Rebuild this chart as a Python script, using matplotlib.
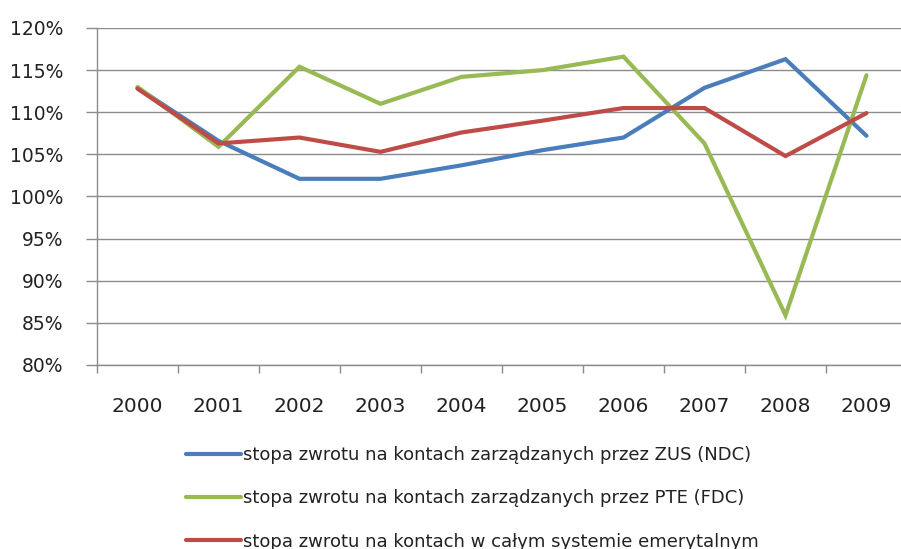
import matplotlib
matplotlib.use("Agg")
import matplotlib.pyplot as plt
from matplotlib.ticker import FixedLocator, NullFormatter, FuncFormatter

years = ["2000", "2001", "2002", "2003", "2004", "2005", "2006", "2007", "2008", "2009"]
zus_ndc = [112.9, 106.6, 102.1, 102.1, 103.7, 105.5, 107.0, 112.9, 116.3, 107.2]
pte_fdc = [113.0, 105.9, 115.4, 111.0, 114.2, 115.0, 116.6, 106.3, 85.9, 114.4]
system_total = [112.8, 106.3, 107.0, 105.3, 107.6, 109.0, 110.5, 110.5, 104.8, 109.9]
labels = [
    "stopa zwrotu na kontach zarządzanych przez ZUS (NDC)",
    "stopa zwrotu na kontach zarządzanych przez PTE (FDC)",
    "stopa zwrotu na kontach w całym systemie emerytalnym",
]
colors = ["#4A7EBB", "#98B954", "#BE4B48"]

plt.rcParams["font.family"] = ["DejaVu Sans"]

fig = plt.figure(figsize=(9.01, 5.49), dpi=100)
W, H = 901, 549
left, right, top, bottom = 97, 907, 28, 365
ax = fig.add_axes([left / W, 1 - bottom / H, (right - left) / W, (bottom - top) / H])

x = list(range(len(years)))
lines = []
for vals, c, lab in zip([zus_ndc, pte_fdc, system_total], colors, labels):
    (ln,) = ax.plot(x, vals, color=c, lw=3.0, label=lab, solid_capstyle="round", solid_joinstyle="miter")
    lines.append(ln)

ax.set_xlim(-0.5, len(years) - 0.5)
ax.set_ylim(80, 120)
ax.set_yticks([80, 85, 90, 95, 100, 105, 110, 115, 120])
ax.yaxis.set_major_formatter(FuncFormatter(lambda v, p: f"{int(round(v))}%"))
ax.grid(axis="y", color="#8C8C8C", lw=1.0)
ax.set_axisbelow(True)

ax.xaxis.set_major_locator(FixedLocator([i - 0.5 for i in range(len(years) + 1)]))
ax.xaxis.set_major_formatter(NullFormatter())
ax.xaxis.set_minor_locator(FixedLocator(x))
ax.set_xticklabels(years, minor=True)
ax.tick_params(axis="x", which="minor", length=0, pad=23, labelsize=14.5, labelcolor="#222222")
ax.tick_params(axis="x", which="major", length=6, width=1, color="#8C8C8C", direction="out")
ax.tick_params(axis="y", length=8, width=1, color="#8C8C8C", pad=16, labelsize=13.5, labelcolor="#222222")

for s in ["top", "right"]:
    ax.spines[s].set_visible(False)
for s in ["left", "bottom"]:
    ax.spines[s].set_color("#8C8C8C")
    ax.spines[s].set_linewidth(1.0)

fig.legend(
    handles=lines,
    labels=labels,
    loc="upper left",
    bbox_to_anchor=(186 / W, 1 - 446 / H),
    frameon=False,
    fontsize=13,
    handlelength=3.05,
    handletextpad=0.1,
    labelspacing=1.4,
    borderpad=0,
    borderaxespad=0,
    labelcolor="#222222",
)

fig.savefig("out.png", dpi=100)
